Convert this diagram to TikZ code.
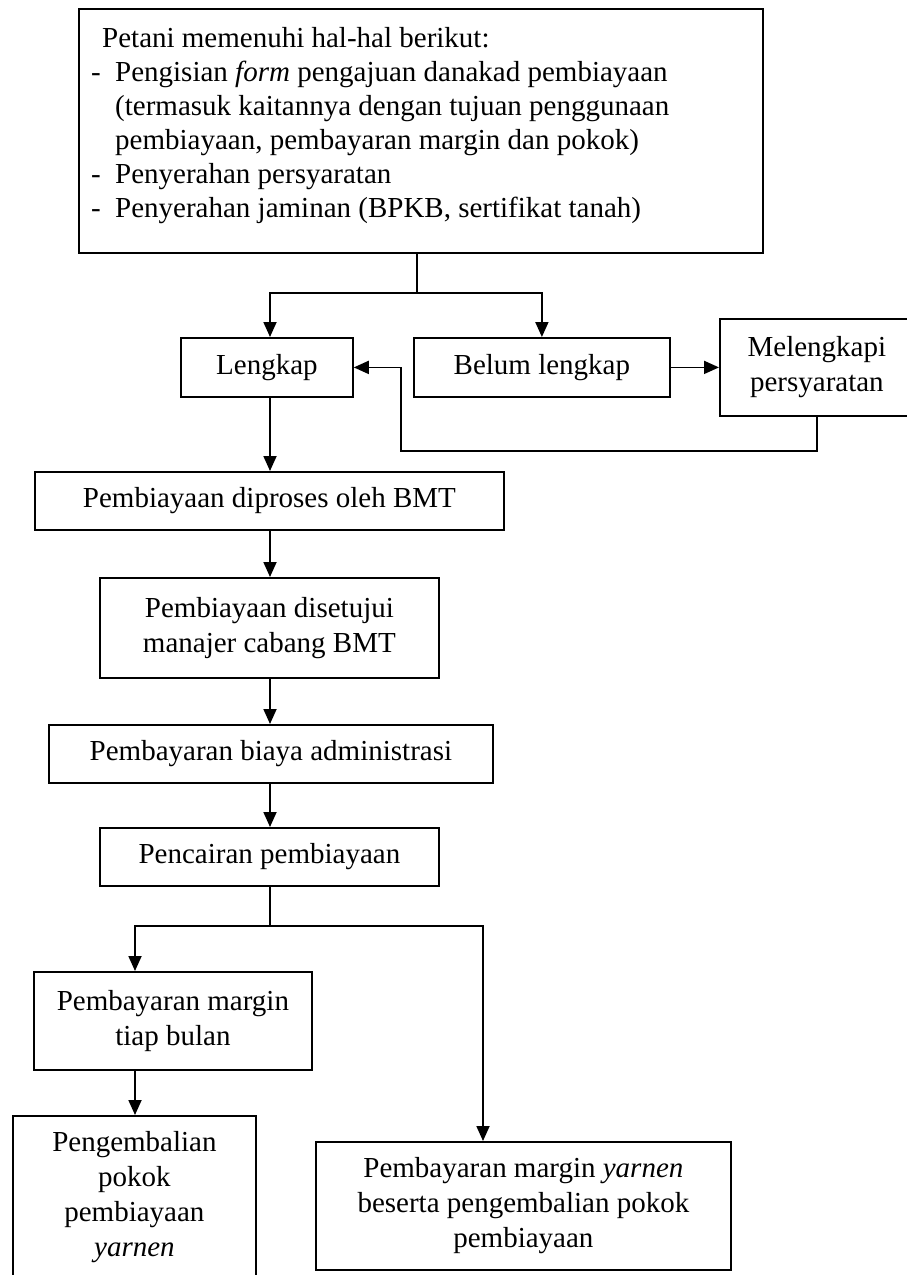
\documentclass[tikz,border=0pt]{standalone}
\usepackage{fontspec}
\setmainfont{Liberation Serif}
\usetikzlibrary{arrows.meta,calc}

\tikzset{
    kotak/.style={draw, line width=1.8pt, anchor=north west, inner sep=0pt, align=center,
        font=\fontsize{29}{35}\selectfont},
    garis/.style={line width=1.8pt},
    panah/.style={garis, -{Triangle[length=15pt,width=13pt]}}
}

\begin{document}
\begin{tikzpicture}[x=1pt, y=-1pt]
            \path[use as bounding box] (0, 0) rectangle (907, 1275);
            \clip (0, 0) rectangle (907, 1275);

            %syarat
            \node[kotak, minimum width=684pt, minimum height=244pt] (syarat) at (78, 8) {};
            \node[anchor=north west, inner sep=0pt, align=left, font=\fontsize{29}{34}\selectfont] (isisyarat) at (91, 27)
                {\hspace*{11pt}Petani memenuhi hal-hal berikut:\\
                 \makebox[24pt][l]{-}Pengisian \textit{form} pengajuan danakad pembiayaan\\
                 \hspace*{24pt}(termasuk kaitannya dengan tujuan penggunaan\\
                 \hspace*{24pt}pembiayaan, pembayaran margin dan pokok)\\
                 \makebox[24pt][l]{-}Penyerahan persyaratan\\
                 \makebox[24pt][l]{-}Penyerahan jaminan (BPKB, sertifikat tanah)};

            \node[kotak, minimum width=172pt, minimum height=59pt] (lengkap) at (180, 337) {Lengkap};
            \node[kotak, minimum width=256pt, minimum height=59pt] (belum) at (413, 337) {Belum lengkap};
            \node[kotak, minimum width=194pt, minimum height=97pt] (melengkapi) at (719, 318) {Melengkapi\\persyaratan};

            \node[kotak, minimum width=469pt, minimum height=58pt] (diproses) at (34, 471) {Pembiayaan diproses oleh BMT};
            \node[kotak, minimum width=339pt, minimum height=100pt] (disetujui) at (99, 577) {Pembiayaan disetujui\\manajer cabang BMT};
            \node[kotak, minimum width=444pt, minimum height=58pt] (administrasi) at (48, 724) {Pembayaran biaya administrasi};
            \node[kotak, minimum width=339pt, minimum height=58pt] (pencairan) at (99, 827) {Pencairan pembiayaan};

            \node[kotak, minimum width=278pt, minimum height=98pt] (margin) at (33, 971) {Pembayaran margin\\tiap bulan};
            \node[kotak, minimum width=243pt, minimum height=163pt] (pengembalian) at (12, 1115)
                {Pengembalian\\pokok\\pembiayaan\\\textit{yarnen}};
            \node[kotak, minimum width=415pt, minimum height=128pt] (yarnen) at (315, 1141)
                {Pembayaran margin \textit{yarnen}\\beserta pengembalian pokok\\pembiayaan};

            \coordinate (kolom) at (270, 0);
            \coordinate (kolomkiri) at (135, 0);
            \coordinate (kolomkanan) at (483, 0);

            %cabang atas
            \coordinate (bagi) at ($(syarat.south) + (-4, 39)$);
            \draw[garis] (bagi |- syarat.south) -- (bagi);
            \draw[panah] (bagi) -| (lengkap.north -| kolom);
            \draw[panah] (bagi) -| (belum.north);

            \draw[panah] (belum.east) -- (melengkapi.west);
            \draw[panah] (melengkapi.south) -- ++(0, 34) -| ($(lengkap.east) + (47, 0)$) -- (lengkap.east);

            \draw[panah] (lengkap.south -| kolom) -- (diproses.north -| kolom);
            \draw[panah] (diproses.south -| kolom) -- (disetujui.north -| kolom);
            \draw[panah] (disetujui.south -| kolom) -- (administrasi.north -| kolom);
            \draw[panah] (administrasi.south -| kolom) -- (pencairan.north -| kolom);

            %cabang bawah
            \coordinate (bagi2) at ($(pencairan.south -| kolom) + (0, 39)$);
            \draw[garis] (pencairan.south -| kolom) -- (bagi2);
            \draw[panah] (bagi2) -| (margin.north -| kolomkiri);
            \draw[panah] (bagi2) -| (yarnen.north -| kolomkanan);
            \draw[panah] (margin.south -| kolomkiri) -- (pengembalian.north -| kolomkiri);
        \end{tikzpicture}
\end{document}
